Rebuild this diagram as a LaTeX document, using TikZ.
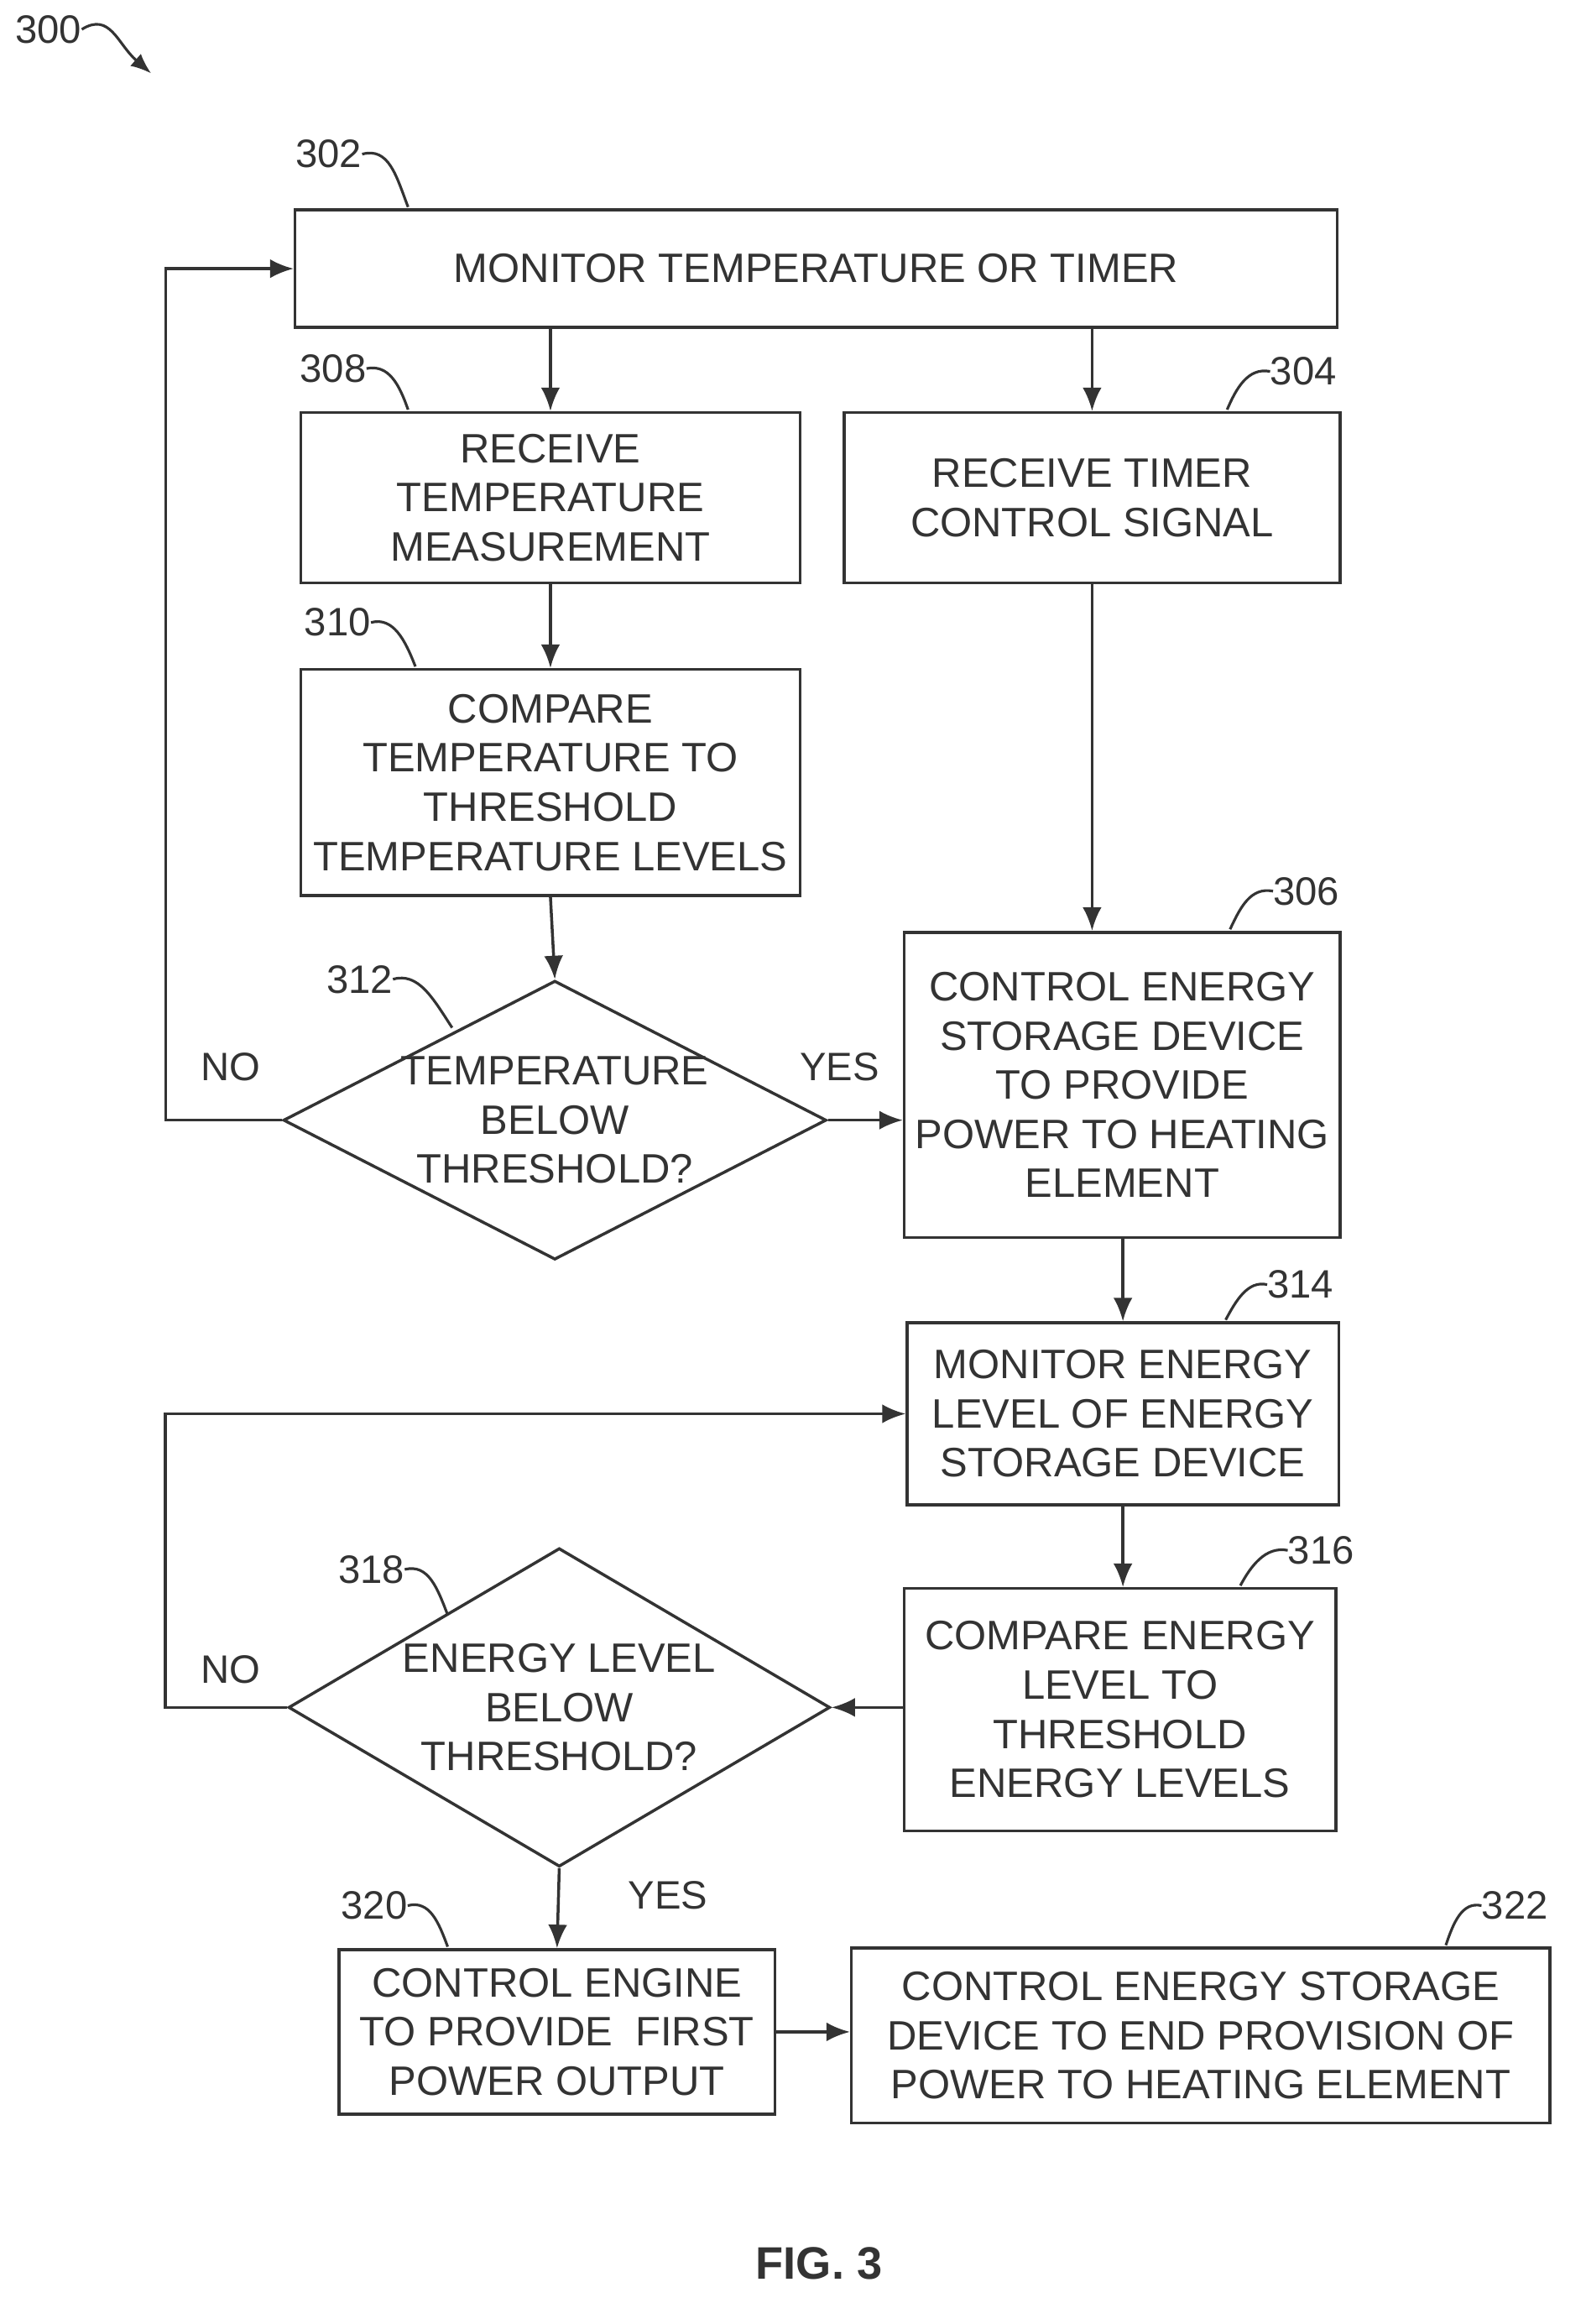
\documentclass[tikz,border=0pt]{standalone}
\usepackage{fontspec}
\setmainfont{Liberation Sans}
\usetikzlibrary{arrows.meta,shapes.geometric}
\definecolor{ink}{HTML}{333333}
\tikzset{
  box/.style={draw=ink, line width=2pt, align=center, inner sep=0pt,
    font=\fontsize{28}{33.5}\selectfont, text=ink},
  dia/.style={draw=ink, line width=2pt, diamond, align=center, inner sep=0pt,
    font=\fontsize{28}{33.5}\selectfont, text=ink},
  lab/.style={font=\fontsize{27}{32}\selectfont, text=ink, inner sep=0pt},
  arr/.style={-{Latex[length=16pt,width=13pt]}, line width=2pt, draw=ink},
  lead/.style={line width=1.8pt, draw=ink},
}
\begin{document}
\begin{tikzpicture}[x=1pt,y=-1pt]
  \useasboundingbox (0,0) rectangle (1080,1583);
  \node[box, minimum width=710, minimum height=80] at (556,183) (b302) {MONITOR TEMPERATURE OR TIMER};
  \node[box, minimum width=340, minimum height=116] at (375,339) (b308) {RECEIVE\\TEMPERATURE\\MEASUREMENT};
  \node[box, minimum width=338, minimum height=116] at (744,339) (b304) {RECEIVE TIMER\\CONTROL SIGNAL};
  \node[box, minimum width=340, minimum height=154] at (375,533) (b310) {COMPARE\\TEMPERATURE TO\\THRESHOLD\\TEMPERATURE LEVELS};
  \node[box, minimum width=297, minimum height=208] at (764.5,739) (b306) {CONTROL ENERGY\\STORAGE DEVICE\\TO PROVIDE\\POWER TO HEATING\\ELEMENT};
  \node[dia, minimum width=370, minimum height=190] at (378,763) (d312) {};
  \node[box, draw=none] at (378,763) (t312) {TEMPERATURE\\BELOW\\THRESHOLD?};
  \node[box, minimum width=294, minimum height=124] at (765,963) (b314) {MONITOR ENERGY\\LEVEL OF ENERGY\\STORAGE DEVICE};
  \node[box, minimum width=294, minimum height=165] at (763,1164.5) (b316) {COMPARE ENERGY\\LEVEL TO\\THRESHOLD\\ENERGY LEVELS};
  \node[dia, minimum width=369, minimum height=217] at (381,1163) (d318) {};
  \node[box, draw=none] at (381,1163) (t318) {ENERGY LEVEL\\BELOW\\THRESHOLD?};
  \node[box, minimum width=297, minimum height=112] at (379.5,1384) (b320) {CONTROL ENGINE\\TO PROVIDE \ FIRST\\POWER OUTPUT};
  \node[box, minimum width=476, minimum height=119] at (818,1386.5) (b322) {CONTROL ENERGY STORAGE\\DEVICE TO END PROVISION OF\\POWER TO HEATING ELEMENT};

  % flow
  \draw[arr] (b302.south -| b308.north) -- (b308.north);
  \draw[arr] (b302.south -| b304.north) -- (b304.north);
  \draw[arr] (b308) -- (b310);
  \draw[arr] (b310.south) -- (d312.north);
  \draw[arr] (b304.south) -- (b304.south |- b306.north);
  \draw[arr] (d312.east) -- (d312.east -| b306.west);
  \draw[arr] (d312.west) -- ++(-79,0) |- (b302.west);
  \draw[arr] (b306.south -| b314.north) -- (b314.north);
  \draw[arr] (b314.south) -- (b314.south |- b316.north);
  \draw[arr] (b316.west |- d318.east) -- (d318.east);
  \draw[arr] (d318.west) -- ++(-83,0) |- (b314.west);
  \draw[arr] (d318.south) -- (b320.north);
  \draw[arr] (b320.east) -- (b320.east -| b322.west);

  \node[lab] at (572,727) (yes1) {YES};
  \node[lab] at (157,727) (no1) {NO};
  \node[lab] at (157,1137) (no2) {NO};
  \node[lab] at (455,1291) (yes2) {YES};

  % reference numerals
  \node[lab] at (224,105) (l302) {302};
  \draw[lead] (l302.east) .. controls (265,100) and (270,120) .. (278,141);
  \node[lab] at (227,251) (l308) {308};
  \draw[lead] (l308.east) .. controls (265,248) and (272,262) .. (278,279);
  \node[lab] at (888,253) (l304) {304};
  \draw[lead] (l304.west) .. controls (850,250) and (842,265) .. (836,279);
  \node[lab] at (230,424) (l310) {310};
  \draw[lead] (l310.east) .. controls (268,420) and (276,436) .. (283,454);
  \node[lab] at (245,667) (l312) {312};
  \draw[lead] (l312.east) .. controls (285,662) and (295,680) .. (308,700);
  \node[lab] at (890,607) (l306) {306};
  \draw[lead] (l306.west) .. controls (852,604) and (845,618) .. (838,633);
  \node[lab] at (886,875) (l314) {314};
  \draw[lead] (l314.west) .. controls (850,872) and (842,886) .. (835,899);
  \node[lab] at (900,1056) (l316) {316};
  \draw[lead] (l316.west) .. controls (862,1053) and (852,1067) .. (845,1080);
  \node[lab] at (253,1069) (l318) {318};
  \draw[lead] (l318.east) .. controls (292,1065) and (298,1082) .. (305,1100);
  \node[lab] at (255,1298) (l320) {320};
  \draw[lead] (l320.east) .. controls (293,1294) and (299,1310) .. (305,1326);
  \node[lab] at (1032,1298) (l322) {322};
  \draw[lead] (l322.west) .. controls (996,1295) and (990,1310) .. (985,1325);

  \node[lab] at (33,20) (l300) {300};
  \draw[arr, line width=1.8pt, -{Latex[length=14pt,width=11pt]}] (l300.east) .. controls (75,8) and (80,30) .. (103,50);

  \node[font=\bfseries\fontsize{31}{36}\selectfont, text=ink] at (558,1542) (fig) {FIG. 3};
\end{tikzpicture}
\end{document}
